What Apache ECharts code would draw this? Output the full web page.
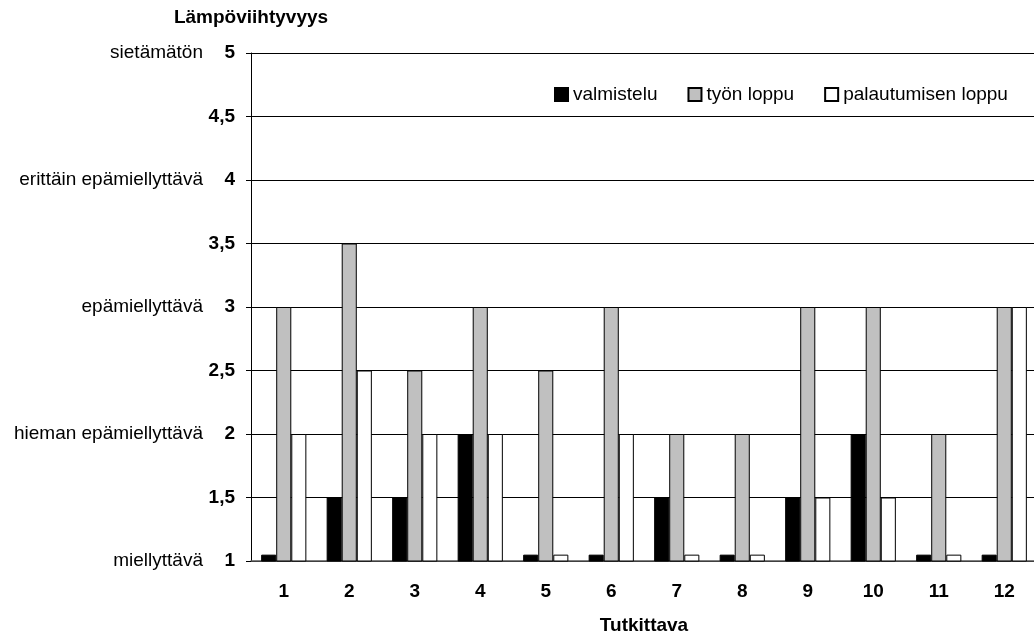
<!DOCTYPE html>
<html>
<head>
<meta charset="utf-8">
<script src="https://cdn.jsdelivr.net/npm/echarts@6/dist/echarts.min.js"></script>
<style>
  html, body { margin: 0; padding: 0; background: #fff; }
  #chart { width: 1034px; height: 631px; }
</style>
</head>
<body>
<div id="chart"></div>
<script>
const subjects = ["1", "2", "3", "4", "5", "6", "7", "8", "9", "10", "11", "12"];
const valmistelu = [1.05, 1.5, 1.5, 2, 1.05, 1.05, 1.5, 1.05, 1.5, 2, 1.05, 1.05];
const tyonLoppu = [3, 3.5, 2.5, 3, 2.5, 3, 2, 2, 3, 3, 2, 3];
const palautumisenLoppu = [2, 2.5, 2, 2, 1.05, 2, 1.05, 1.05, 1.5, 1.5, 1.05, 3];
const levelValues = [1, 2, 3, 4, 5];
const levelNames = ["miellyttävä", "hieman epämiellyttävä", "epämiellyttävä", "erittäin epämiellyttävä", "sietämätön"];

const font = "Arial, 'Liberation Sans', sans-serif";
const fontSize = 19;

const chart = echarts.init(document.getElementById("chart"), null, { renderer: "canvas" });

const barStyle = (color) => ({
  color: color,
  borderColor: "#000",
  borderWidth: 1,
});

chart.setOption({
  backgroundColor: "#fff",
  animation: false,
  textStyle: { fontFamily: font },
  grid: {
    left: 251,
    top: 53,
    width: 786,
    bottom: 70,
    outerBoundsMode: "none",
  },
  legend: {
    left: 549,
    top: 80,
    icon: "rect",
    itemWidth: 13,
    itemHeight: 13,
    itemGap: 30,
    textStyle: { fontFamily: font, fontSize: fontSize, color: "#000" },
    data: ["valmistelu", "työn loppu", "palautumisen loppu"],
  },
  xAxis: {
    type: "category",
    data: subjects,
    name: "Tutkittava",
    nameLocation: "middle",
    nameGap: 55,
    nameTextStyle: { fontFamily: font, fontSize: fontSize, fontWeight: "bold", color: "#000" },
    axisLine: { show: true, lineStyle: { color: "#555", width: 1.5 } },
    axisTick: { show: false },
    axisLabel: {
      interval: 0,
      margin: 21,
      fontFamily: font,
      fontSize: fontSize,
      fontWeight: "bold",
      color: "#000",
    },
  },
  yAxis: [
    {
      type: "value",
      min: 1,
      max: 5,
      interval: 0.5,
      name: "Lämpöviihtyvyys",
      nameLocation: "end",
      nameGap: 26,
      nameTextStyle: { fontFamily: font, fontSize: fontSize, fontWeight: "bold", color: "#000", align: "center" },
      axisLine: { show: true, lineStyle: { color: "#000", width: 1 } },
      axisTick: { show: true, length: 5, lineStyle: { color: "#000" } },
      axisLabel: {
        margin: 16,
        fontFamily: font,
        fontSize: fontSize,
        fontWeight: "bold",
        color: "#000",
        formatter: (v) => String(v).replace(".", ","),
      },
      splitLine: { show: true, lineStyle: { color: "#000", width: 1 } },
    },
    {
      type: "value",
      position: "left",
      min: 1,
      max: 5,
      interval: 0.5,
      axisLine: { show: false },
      axisTick: { show: false },
      splitLine: { show: false },
      axisLabel: {
        margin: 48,
        fontFamily: font,
        fontSize: fontSize,
        color: "#000",
        formatter: (v) => {
          const i = levelValues.indexOf(v);
          return i >= 0 ? levelNames[i] : "";
        },
      },
    },
  ],
  series: [
    {
      name: "valmistelu",
      type: "bar",
      data: valmistelu,
      barGap: "0%",
      barCategoryGap: "31%",
      itemStyle: barStyle("#000"),
    },
    {
      name: "työn loppu",
      type: "bar",
      data: tyonLoppu,
      barGap: "0%",
      barCategoryGap: "31%",
      itemStyle: barStyle("#c0c0c0"),
    },
    {
      name: "palautumisen loppu",
      type: "bar",
      data: palautumisenLoppu,
      barGap: "0%",
      barCategoryGap: "31%",
      itemStyle: barStyle("#fff"),
    },
  ],
});
</script>
</body>
</html>
